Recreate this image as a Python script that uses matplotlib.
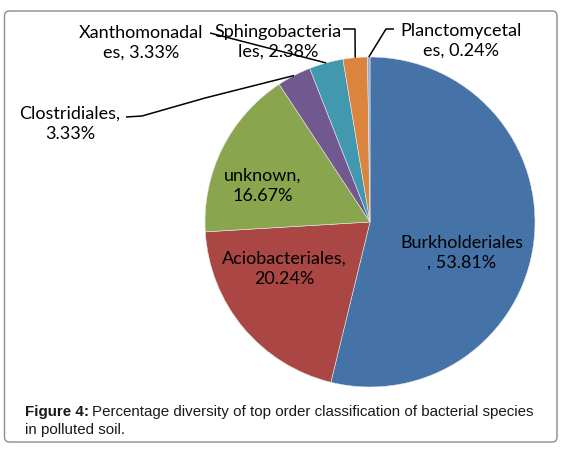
import numpy as np
import matplotlib
matplotlib.use("Agg")
import matplotlib.pyplot as plt
from matplotlib.patches import FancyBboxPatch

# data
orders = ["Burkholderiales", "Aciobacteriales", "unknown", "Clostridiales",
          "Xanthomonadales", "Sphingobacteriales", "Planctomycetales"]
percent = [53.81, 20.24, 16.67, 3.33, 3.33, 2.38, 0.24]
label_text = ["Burkholderiales\n, 53.81%", "Aciobacteriales,\n20.24%", "unknown,\n16.67%",
              "Clostridiales,\n3.33%", "Xanthomonadal\nes, 3.33%",
              "Sphingobacteria\nles, 2.38%", "Planctomycetal\nes, 0.24%"]
colors = ["#4572A7", "#AA4643", "#89A54E", "#71588F", "#4198AF", "#DB843D", "#93A9CF"]

W, H = 569, 450
CX, CY, R = 370, 222, 165

def Y(y):
    # image pixel rows -> axes coords (y up)
    return H - y

fig = plt.figure(figsize=(W / 100, H / 100), dpi=100)
ax = fig.add_axes([0, 0, 1, 1])

# outer rounded frame
frame = FancyBboxPatch((4.5, Y(442)), 552.5, 431, boxstyle="round,pad=0,rounding_size=5",
                       fc="white", ec="#8c8c8c", lw=1.0, zorder=0)
ax.add_patch(frame)

wedges, _ = ax.pie(percent, colors=colors, startangle=90, counterclock=False,
                   center=(CX, Y(CY)), radius=R, frame=True,
                   wedgeprops=dict(edgecolor="#e8e8e8", linewidth=0.4))
ax.set_xlim(0, W)
ax.set_ylim(0, H)
ax.set_aspect("equal")
ax.axis("off")

font = ["Lato", "DejaVu Sans"]
fs = 13

# labels inside the slices
inside = {0: (462, 253), 1: (284, 269), 2: (263, 186)}
for i, (x, y) in inside.items():
    ax.text(x, Y(y), label_text[i], ha="center", va="center", fontsize=fs,
            family=font, color="#000000", linespacing=1.3)

# labels outside with leader lines
outside = {3: (70, 124), 4: (141, 43), 5: (278, 42), 6: (461, 41)}
# leader line bends (pixel coords); the line ends on the slice edge
bends = {3: [(126, 117), (142, 116), (205, 98)],
         4: [(210, 33)],
         5: [(343, 29), (355, 29)],
         6: [(394, 29), (386, 29)]}
for i, (x, y) in outside.items():
    ax.text(x, Y(y), label_text[i], ha="center", va="center", fontsize=fs,
            family=font, color="#000000", linespacing=1.3)
    w = wedges[i]
    mid = np.deg2rad((w.theta1 + w.theta2) / 2)
    xs = [p[0] for p in bends[i]] + [CX + R * np.cos(mid)]
    ys = [Y(p[1]) for p in bends[i]] + [Y(CY) + R * np.sin(mid)]
    ax.plot(xs, ys, color="black", lw=1.1, solid_capstyle="butt", zorder=5)

# caption: bold lead-in followed by plain text
cap_fs = 10.9
bold = ax.text(25, Y(412), "Figure 4:", ha="left", va="center", fontsize=cap_fs,
               family="Liberation Sans", weight="bold", color="#1a1a1a")
fig.canvas.draw()
bb = bold.get_window_extent(fig.canvas.get_renderer())
x_after = ax.transData.inverted().transform((bb.x1, bb.y0))[0] + 3.5
ax.text(x_after, Y(412), "Percentage diversity of top order classification of bacterial species",
        ha="left", va="center", fontsize=cap_fs, family="Liberation Sans", color="#1a1a1a")
ax.text(25, Y(430), "in polluted soil.", ha="left", va="center", fontsize=cap_fs,
        family="Liberation Sans", color="#1a1a1a")

fig.savefig("out.png", dpi=100)
